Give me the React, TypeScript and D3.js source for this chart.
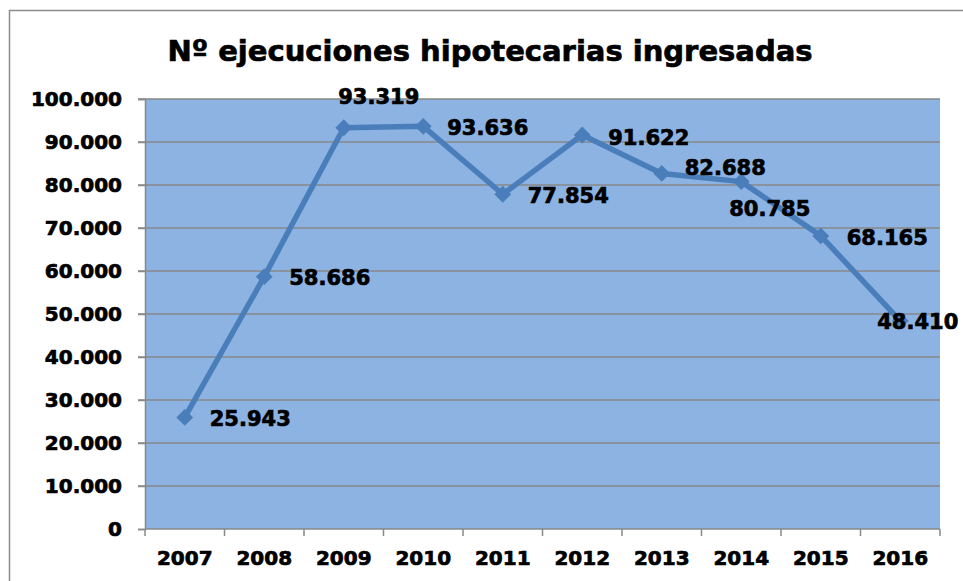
import React, { useEffect, useRef } from "react"
import * as d3 from "d3"

const years = ["2007", "2008", "2009", "2010", "2011", "2012", "2013", "2014", "2015", "2016"]
const executions = [25943, 58686, 93319, 93636, 77854, 91622, 82688, 80785, 68165, 48410]
const yTicks = [0, 10000, 20000, 30000, 40000, 50000, 60000, 70000, 80000, 90000, 100000]
// where each data label sits relative to its marker (dx, dy of label start / middle)
const labelOffsets: [number, number, string][] = [
  [25, 1, "start"], [25, 1, "start"], [35, -31, "middle"], [24, 1, "start"], [25, 1, "start"],
  [26, 2, "start"], [23, -6, "start"], [-12, 27, "start"], [26, 2, "start"], [-23, 1, "start"],
]

const fmt = (v: number) => d3.format(",")(v).replace(/,/g, ".")

export default function App() {
  const svgRef = useRef<SVGSVGElement>(null)

  useEffect(() => {
    if (!svgRef.current) return
    const svg = d3.select(svgRef.current)
    svg.selectAll("*").remove()

    const font = "Verdana, 'DejaVu Sans', sans-serif"
    const left = 145, right = 940, top = 99, bottom = 529

    // bold text a bit heavier, closer to Verdana Bold
    const heavy = (sel: any, size: number) =>
      sel.attr("font-family", font).attr("font-weight", "bold").attr("font-size", size)
        .attr("fill", "#000").attr("stroke", "#000").attr("stroke-width", 0.7)

    // outer frame
    svg.append("rect")
      .attr("x", 9.5).attr("y", 10.5).attr("width", 980).attr("height", 600)
      .attr("fill", "white").attr("stroke", "#8c8c8c").attr("stroke-width", 1.5)

    heavy(svg.append("text")
      .attr("x", 490).attr("y", 61).attr("text-anchor", "middle"), 29)
      .text("Nº ejecuciones hipotecarias ingresadas")

    const x = d3.scaleBand().domain(years).range([left, right])
    const y = d3.scaleLinear().domain([0, 100000]).range([bottom, top])

    svg.append("rect")
      .attr("x", left).attr("y", top).attr("width", right - left).attr("height", bottom - top)
      .attr("fill", "#8db3e2")

    // gridlines
    svg.append("g").selectAll("line").data(yTicks.filter(d => d > 0)).enter().append("line")
      .attr("x1", left - 7).attr("x2", right)
      .attr("y1", d => y(d)).attr("y2", d => y(d))
      .attr("stroke", "#898989").attr("stroke-width", 1.5)

    // y axis
    const yAxis = svg.append("g").attr("transform", `translate(${left},0)`)
      .call(d3.axisLeft(y).tickValues(yTicks).tickSize(7).tickPadding(16).tickFormat(d => fmt(+d)))
    yAxis.select(".domain").attr("stroke", "#898989").attr("stroke-width", 1.5)
    yAxis.selectAll(".tick line").attr("stroke", "#898989").attr("stroke-width", 1.5)
    heavy(yAxis.selectAll("text"), 20)

    // x axis
    const xAxis = svg.append("g").attr("transform", `translate(0,${bottom})`)
      .call(d3.axisBottom(x).tickSize(0).tickPadding(22))
    xAxis.select(".domain").remove()
    heavy(xAxis.selectAll("text"), 20)
    svg.append("line").attr("x1", left).attr("x2", right).attr("y1", bottom).attr("y2", bottom)
      .attr("stroke", "#898989").attr("stroke-width", 1.5)
    const bounds = years.map(d => x(d) || 0).concat([right])
    svg.append("g").selectAll("line").data(bounds).enter().append("line")
      .attr("x1", d => d).attr("x2", d => d).attr("y1", bottom).attr("y2", bottom + 7)
      .attr("stroke", "#898989").attr("stroke-width", 1.5)

    const cx = (i: number) => (x(years[i]) || 0) + x.bandwidth() / 2

    const line = d3.line<number>().x((_, i) => cx(i)).y(d => y(d))
    svg.append("path").datum(executions)
      .attr("d", line).attr("fill", "none")
      .attr("stroke", "#4a7ebb").attr("stroke-width", 5.5).attr("stroke-linejoin", "round")

    const diamond = d3.symbol().type(d3.symbolDiamond2).size(180)
    svg.append("g").selectAll("path").data(executions).enter().append("path")
      .attr("d", diamond)
      .attr("transform", (d, i) => `translate(${cx(i)},${y(d)})`)
      .attr("fill", "#4a7ebb")

    heavy(svg.append("g").selectAll("text").data(executions).enter().append("text")
      .attr("x", (d: number, i: number) => cx(i) + labelOffsets[i][0])
      .attr("y", (d: number, i: number) => y(d) + labelOffsets[i][1])
      .attr("dy", "0.36em")
      .attr("text-anchor", (d: number, i: number) => labelOffsets[i][2]), 21)
      .text((d: number) => fmt(d))
  }, [])

  return (
    <svg ref={svgRef} width={963} height={581}
      style={{ position: "absolute", left: 0, top: 0, background: "white" }} />
  )
}
